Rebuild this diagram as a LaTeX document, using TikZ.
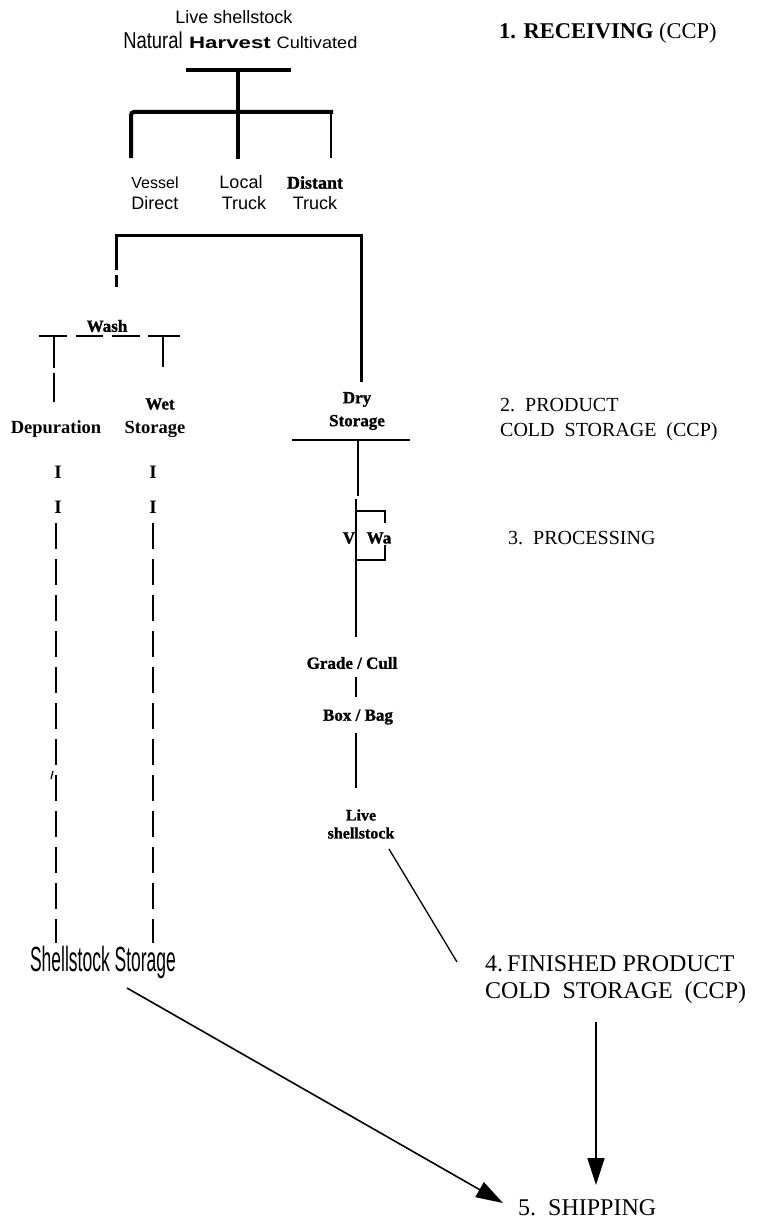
\documentclass[tikz,border=0pt]{standalone}
\usepackage{fontspec}
\setmainfont{Liberation Serif}
\newfontfamily\arialfont{Liberation Sans}
\newfontfamily\blackfont{Liberation Serif}[FakeBold=1.2]
\usepackage{graphicx}
\usetikzlibrary{arrows.meta}

\begin{document}
\begin{tikzpicture}[
    x=1pt, y=-1pt,
    lbl/.style={inner sep=0pt, align=center},
    sans/.style={lbl, font=\arialfont\fontsize{18}{21}\selectfont},
    blk/.style={lbl, font=\blackfont\bfseries\fontsize{17}{23}\selectfont},
    serifb/.style={lbl, font=\bfseries\fontsize{18.5}{21}\selectfont},
    stage/.style={inner sep=0pt, align=left, anchor=west, font=\fontsize{20}{25}\selectfont},
    heavy/.style={line width=4pt},
    frame/.style={line width=3pt},
    link/.style={line width=2.2pt},
    thin/.style={line width=1.3pt},
    dashcol/.style={line width=2pt, dash pattern=on 26pt off 10pt},
    arrow/.style={-{Triangle[length=27pt,width=17pt]}, line width=1.6pt}
]
\useasboundingbox (0,0) rectangle (775,1220);

% 1. receiving
\node[sans] (live) at (234,17) {Live shellstock};
\node[lbl, font=\arialfont\fontsize{23}{25}\selectfont] (natural) at (153,40) {\scalebox{0.8}[1]{Natural}};
\node[lbl, font=\arialfont\bfseries\fontsize{16.5}{18}\selectfont] (harvest) at (230,43) {\scalebox{1.35}[1]{Harvest}};
\node[lbl, font=\arialfont\fontsize{16.5}{18}\selectfont] (cultiv) at (317,43) {\scalebox{1.1}[1]{Cultivated}};
\node[stage, font=\fontsize{22.5}{25}\selectfont] (recv) at (499,33) {\textbf{1. RECEIVING} (CCP)};

\coordinate (barL) at (186,70);
\coordinate (barR) at (291,70);
\coordinate (barM) at (238,70);
\coordinate (splitM) at (238,159);
\coordinate (splitL) at (131,158);
\coordinate (cornL) at (131,112);
\coordinate (cornR) at (333,112);
\coordinate (hookT) at (331,113);
\coordinate (hookB) at (331,158);
\draw[heavy] (barL) -- (barR);
\draw[heavy] (barM) -- (splitM);
\draw[heavy, rounded corners=3pt] (splitL) -- (cornL) -- (cornR);
\draw[thin] (hookT) -- (hookB);

\node[sans] (vessel) at (155,193) {{\fontsize{16}{21}\selectfont Vessel}\\Direct};
\node[sans] (local) at (241,193) {Local\\\hspace*{6pt}Truck};
\node[sans] (distant) at (315,193) {{\blackfont\bfseries Distant}\\Truck};

% split to wash and dry storage
\coordinate (washTop) at (116,287);
\coordinate (washGapB) at (116,275);
\coordinate (washGapT) at (116,270);
\coordinate (frameL) at (116,235);
\coordinate (frameR) at (361,235);
\coordinate (dryTop) at (361,382);
\draw[frame] (washTop) -- (washGapB);
\draw[frame] (washGapT) -- (frameL) -- (frameR) -- (dryTop);

\node[blk] (wash) at (107,326) {Wash};
\foreach \a/\b in {39/67, 76/103, 112/140, 148/180}
    \draw[link, line width=1.8pt] (\a,336) -- (\b,336);
\coordinate (depT) at (54,336);
\coordinate (depM) at (54,368);
\coordinate (depN) at (54,373);
\coordinate (depB) at (54,402);
\coordinate (wetT) at (163,336);
\coordinate (wetB) at (163,367);
\draw[link] (depT) -- (depM);
\draw[link] (depN) -- (depB);
\draw[link] (wetT) -- (wetB);

\node[blk] (wet) at (160,404) {Wet};
\node[serifb] (depur) at (56,429) {Depuration};
\node[serifb] (wetst) at (155,429) {Storage};

\node[serifb, font=\bfseries\fontsize{19}{21}\selectfont] (i1) at (58,472) {I};
\node[serifb, font=\bfseries\fontsize{19}{21}\selectfont] (i2) at (153,472) {I};
\node[serifb, font=\bfseries\fontsize{19}{21}\selectfont] (i3) at (58,507) {I};
\node[serifb, font=\bfseries\fontsize{19}{21}\selectfont] (i4) at (153,507) {I};

\coordinate (colAT) at (56,523);
\coordinate (colAB) at (56,943);
\coordinate (colBT) at (153,523);
\coordinate (colBB) at (153,943);
\draw[dashcol] (colAT) -- (colAB);
\draw[dashcol] (colBT) -- (colBB);
\coordinate (tickA) at (53,771);
\coordinate (tickB) at (51,779);
\draw[thin] (tickA) -- (tickB);

\node[lbl, font=\arialfont\fontsize{35}{37}\selectfont] (shelst) at (103,962) {\scalebox{0.5}[1]{Shellstock Storage}};

% 2. product cold storage
\node[blk] (dry) at (357,411) {Dry\\Storage};
\node[stage] (cold) at (500,419.5) {2.\ \ PRODUCT\\COLD\ \ STORAGE\ \ (CCP)};
\coordinate (dryL) at (292,440);
\coordinate (dryR) at (410,440);
\coordinate (dryM) at (358,440);
\coordinate (dryB) at (358,496);
\draw[link] (dryL) -- (dryR);
\draw[link] (dryM) -- (dryB);

% 3. processing
\node[stage] (proc) at (508,538) {3.\ \ PROCESSING};
\coordinate (procT) at (356,499);
\coordinate (procB) at (356,637);
\coordinate (brTL) at (356,511);
\coordinate (brTR) at (385,511);
\coordinate (brTE) at (385,523);
\coordinate (brBE) at (385,545);
\coordinate (brBR) at (385,560);
\coordinate (brBL) at (356,560);
\draw[link] (procT) -- (procB);
\draw[link] (brTL) -- (brTR) -- (brTE);
\draw[link] (brBE) -- (brBR) -- (brBL);
\node[blk] (v) at (349,538) {V};
\node[blk] (wa) at (379,538) {Wa};

\node[blk] (grade) at (352,663) {Grade / Cull};
\coordinate (gradeB) at (356,677);
\coordinate (boxT) at (356,697);
\draw[link] (gradeB) -- (boxT);
\node[blk] (box) at (358,717) {Box / Bag};
\coordinate (boxB) at (356,733);
\coordinate (liveT) at (356,788);
\draw[link] (boxB) -- (liveT);
\node[blk, font=\blackfont\bfseries\fontsize{16}{18}\selectfont] (livest) at (361,824) {Live\\shellstock};

% 4. finished product cold storage
\node[stage, font=\fontsize{24}{27}\selectfont] (fin) at (485,979.5) {4.\,FINISHED PRODUCT\\COLD\ \ STORAGE\ \ (CCP)};
\coordinate (liveB) at (389,849);
\coordinate (finL) at (457,962);
\draw[thin] (liveB) -- (finL);

% 5. shipping
\node[stage, font=\fontsize{24}{27}\selectfont] (ship) at (518,1208) {5.\ \ SHIPPING};
\coordinate (finB) at (596,1022);
\coordinate (shipT) at (596,1185);
\draw[arrow] (finB) -- (shipT);
\coordinate (shelstB) at (127,988);
\coordinate (shipL) at (503,1203);
\draw[arrow] (shelstB) -- (shipL);
\end{tikzpicture}
\end{document}
